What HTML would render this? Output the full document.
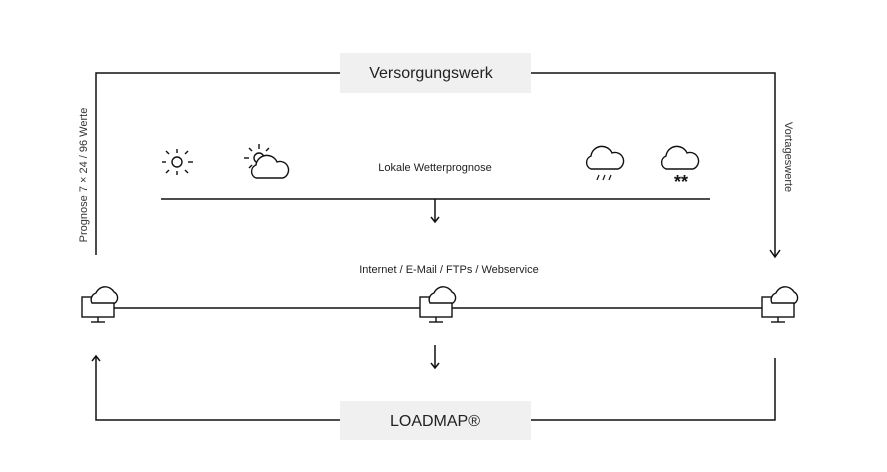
<!DOCTYPE html>
<html><head><meta charset="utf-8"><style>
body{margin:0;background:#fff;}
svg{display:block;font-family:"Liberation Sans",sans-serif;}
</style></head><body>
<svg width="887" height="472" viewBox="0 0 887 472" xmlns="http://www.w3.org/2000/svg">
<defs>
<g id="pc" fill="#fff" stroke="#111" stroke-width="1.4">
  <rect x="-18" y="-10" width="32" height="20"/>
  <line x1="-2" y1="10" x2="-2" y2="15"/>
  <line x1="-9" y1="15" x2="5" y2="15"/>
  <path d="M-8,-4 a7,7 0 0 1 4,-10 a10,10 0 0 1 18,-1 a6.5,6.5 0 0 1 1,11 z"/>
</g>
<g id="cloud" fill="#fff" stroke="#111" stroke-width="1.4">
  <path d="M-16,9 a7,7 0 0 1 0,-13 a11,11 0 0 1 21,-3 a8,8 0 0 1 6,16 z"/>
</g>
</defs>
<g stroke="#111" stroke-width="1.5" fill="none">
  <polyline points="96,255 96,73 775,73 775,256"/>
  <polyline points="770,250 775,257 780,250"/>
  <line x1="161" y1="199" x2="710" y2="199"/>
  <line x1="435" y1="199" x2="435" y2="222"/>
  <polyline points="431,217 435,222 439,217"/>
  <line x1="96" y1="308" x2="775" y2="308"/>
  <line x1="435" y1="345" x2="435" y2="368"/>
  <polyline points="431,363 435,368 439,363"/>
  <polyline points="96,356 96,420 775,420 775,358"/>
  <polyline points="92,361 96,356 100,361"/>
</g>
<rect x="340" y="53" width="191" height="40" fill="#f0f0f0"/>
<text x="431" y="78" font-size="16" text-anchor="middle" fill="#222">Versorgungswerk</text>
<rect x="340" y="401" width="191" height="39" fill="#f0f0f0"/>
<text x="435" y="426" font-size="16" text-anchor="middle" fill="#222">LOADMAP®</text>
<text x="435" y="171" font-size="11" text-anchor="middle" fill="#222">Lokale Wetterprognose</text>
<text x="449" y="273" font-size="11" text-anchor="middle" fill="#222">Internet / E-Mail / FTPs / Webservice</text>
<text transform="translate(87,175) rotate(-90)" font-size="11" text-anchor="middle" fill="#333">Prognose 7 × 24 / 96 Werte</text>
<text transform="translate(785,157) rotate(90)" font-size="11" text-anchor="middle" fill="#333">Vortageswerte</text>
<g stroke="#111" stroke-width="1.4" fill="none">
  <circle cx="177" cy="162" r="5"/>
  <line x1="177" y1="149" x2="177" y2="153"/><line x1="177" y1="171" x2="177" y2="175"/>
  <line x1="162" y1="162" x2="166" y2="162"/><line x1="188" y1="162" x2="193" y2="162"/>
  <line x1="166" y1="151" x2="169" y2="154"/><line x1="185" y1="170" x2="188" y2="173"/>
  <line x1="188" y1="151" x2="185" y2="154"/><line x1="169" y1="170" x2="166" y2="173"/>
</g>
<g stroke="#111" stroke-width="1.4" fill="none">
  <circle cx="259" cy="158" r="5"/>
  <line x1="259" y1="144" x2="259" y2="149"/><line x1="244" y1="158" x2="249" y2="158"/>
  <line x1="249" y1="148" x2="252" y2="151"/><line x1="269" y1="148" x2="266" y2="151"/>
  <line x1="249" y1="168" x2="252" y2="165"/>
</g>
<use href="#cloud" x="272" y="169"/>
<use href="#cloud" x="607" y="160"/>
<g stroke="#111" stroke-width="1.2"><line x1="599" y1="175" x2="597" y2="180"/><line x1="605" y1="175" x2="603" y2="180"/><line x1="611" y1="175" x2="609" y2="180"/></g>
<use href="#cloud" x="682" y="160"/>
<text x="681" y="188" font-size="18" font-weight="bold" text-anchor="middle" fill="#111">**</text>
<use href="#pc" x="100" y="307"/>
<use href="#pc" x="438" y="307"/>
<use href="#pc" x="780" y="307"/>
</svg>
</body></html>
